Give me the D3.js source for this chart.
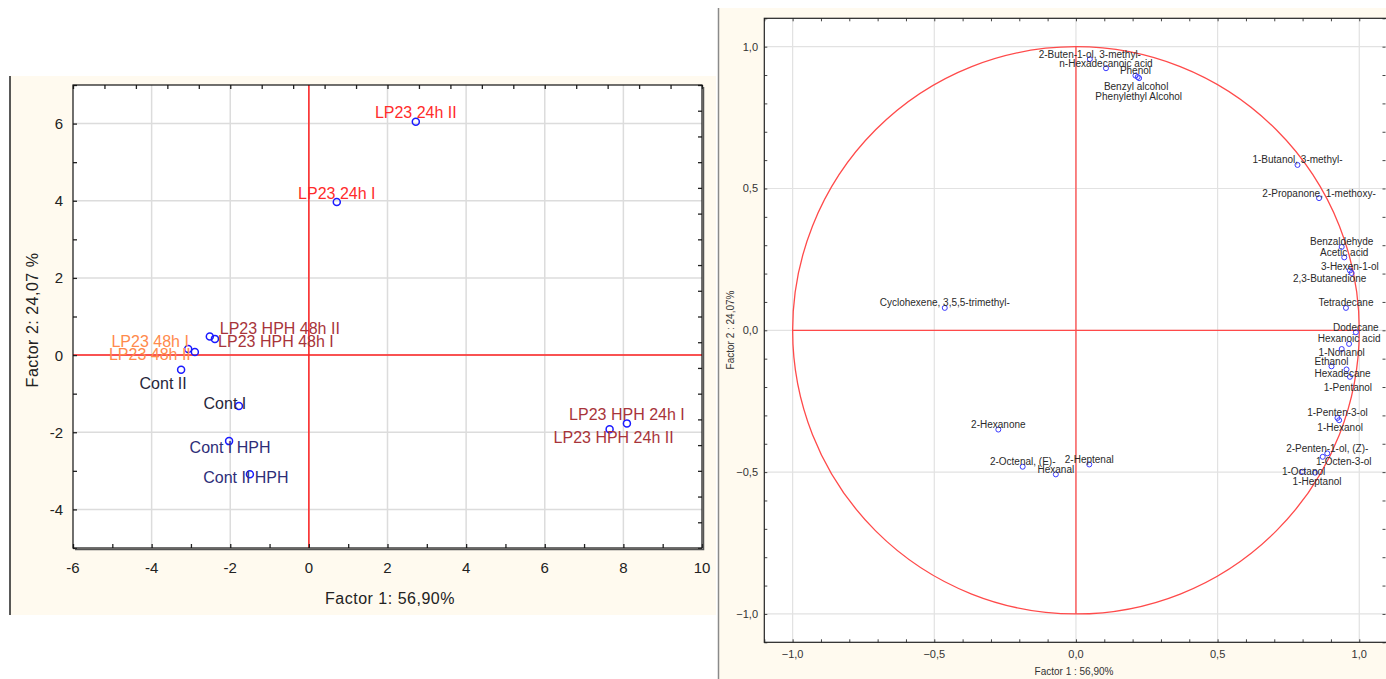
<!DOCTYPE html>
<html>
<head>
<meta charset="utf-8">
<script src="https://cdn.jsdelivr.net/npm/d3@7"></script>
<style>
  body { margin: 0; background: #fff; }
  svg text { font-family: "Liberation Sans", Arial, sans-serif; }
</style>
</head>
<body>
<div id="chart"></div>
<script>
// --- scores plot (cases) ---
const caseNames = ["LP23 24h II", "LP23 24h I", "LP23 HPH 48h II", "LP23 HPH 48h I",
  "LP23 48h I", "LP23 48h II", "Cont II", "Cont I", "Cont I HPH", "Cont II HPH",
  "LP23 HPH 24h I", "LP23 HPH 24h II"];
const caseF1 = [2.72, 0.71, -2.52, -2.39, -3.07, -2.90, -3.25, -1.78, -2.03, -1.50, 8.09, 7.65];
const caseF2 = [6.05, 3.97, 0.48, 0.42, 0.16, 0.08, -0.38, -1.32, -2.23, -3.09, -1.77, -1.92];
const caseGroup = ["24h", "24h", "HPH48", "HPH48", "48h", "48h", "Cont", "Cont", "ContHPH", "ContHPH", "HPH24", "HPH24"];
const scoreTicks = [-6, -4, -2, 0, 2, 4, 6, 8, 10];
const scoreYTicks = [-4, -2, 0, 2, 4, 6];

// --- loadings plot (variables) ---
const varNames = ["2-Buten-1-ol, 3-methyl-", "n-Hexadecanoic acid", "Phenol", "Benzyl alcohol",
  "Phenylethyl Alcohol", "1-Butanol, 3-methyl-", "2-Propanone, 1-methoxy-", "Benzaldehyde",
  "Acetic acid", "3-Hexen-1-ol", "2,3-Butanedione", "Tetradecane", "Cyclohexene, 3,5,5-trimethyl-",
  "Dodecane", "Hexanoic acid", "1-Nonanol", "Ethanol", "Hexadecane", "1-Pentanol", "1-Penten-3-ol",
  "1-Hexanol", "2-Penten-1-ol, (Z)-", "1-Octen-3-ol", "1-Octanol", "1-Heptanol", "2-Hexanone",
  "2-Octenal, (E)-", "2-Heptenal", "Hexanal"];
const varF1 = [0.049, 0.106, 0.210, 0.223, 0.218, 0.782, 0.858, 0.938, 0.947, 0.967, 0.973, 0.953, -0.463,
  0.988, 0.964, 0.938, 0.902, 0.955, 0.967, 0.923, 0.929, 0.887, 0.871, 0.800, 0.844, -0.274,
  -0.188, 0.047, -0.071];
const varF2 = [0.956, 0.924, 0.898, 0.889, 0.893, 0.583, 0.466, 0.294, 0.257, 0.211, 0.202, 0.079, 0.079,
  -0.007, -0.048, -0.066, -0.127, -0.138, -0.164, -0.309, -0.317, -0.434, -0.446, -0.499, -0.502, -0.350,
  -0.481, -0.473, -0.508];
const loadTicks = [-1.0, -0.5, 0.0, 0.5, 1.0];

// label placement (offsets in px from the marker)
const caseNudge = [[0, -9], [0, -8], [70, -8], [61, 3], [-38, -7], [-45, 3], [-18, 14], [-14, -3], [1, 6], [-4, 3], [0, -9], [4, 8]];
const varNudge = {
  "Benzyl alcohol": [-3, 8], "Phenylethyl Alcohol": [1, 19], "2,3-Butanedione": [-22, 5],
  "1-Nonanol": [0, 3], "Hexadecane": [-4, 4], "1-Pentanol": [-2, 11], "1-Hexanol": [1, 7],
  "1-Octen-3-ol": [21, 5], "1-Octanol": [1, 0], "1-Heptanol": [2, 9], "3-Hexen-1-ol": [0, -4]
};
const groupColor = { "24h": "#ff2b2b", "HPH48": "#a8343a", "HPH24": "#a8343a", "48h": "#ff8a4c", "Cont": "#26263a", "ContHPH": "#2e2e78" };

const fmt = d3.format(".1f");
const comma = v => fmt(v).replace(".", ",");

const svg = d3.select("#chart").append("svg")
  .attr("width", 1386).attr("height", 679);

// panel backgrounds
svg.append("rect").attr("x", 10).attr("y", 76).attr("width", 706).attr("height", 539).attr("fill", "#fffaef");
svg.append("line").attr("x1", 10).attr("x2", 10).attr("y1", 76).attr("y2", 615).attr("stroke", "#222").attr("stroke-width", 1.5);
svg.append("rect").attr("x", 718).attr("y", 8).attr("width", 668).attr("height", 671).attr("fill", "#fffaef");
svg.append("line").attr("x1", 718.5).attr("x2", 718.5).attr("y1", 8).attr("y2", 679).attr("stroke", "#8a8a8a").attr("stroke-width", 1.5);

// ================= left: scores =================
const x1 = d3.scaleLinear().domain([-6, 10]).range([73, 702]);
const y1 = d3.scaleLinear().domain([-5, 7]).range([548, 85]);
const g1 = svg.append("g");

g1.append("rect").attr("x", 73).attr("y", 85).attr("width", 629).attr("height", 463).attr("fill", "#fff");

// grid
g1.append("g").selectAll("line").data(scoreTicks.slice(1, -1)).join("line")
  .attr("x1", d => x1(d)).attr("x2", d => x1(d)).attr("y1", 85).attr("y2", 548)
  .attr("stroke", "#dcdcdc").attr("stroke-width", 1.5);
g1.append("g").selectAll("line").data(scoreYTicks).join("line")
  .attr("y1", d => y1(d)).attr("y2", d => y1(d)).attr("x1", 73).attr("x2", 702)
  .attr("stroke", "#dcdcdc").attr("stroke-width", 1.5);

// zero lines
g1.append("line").attr("x1", x1(0)).attr("x2", x1(0)).attr("y1", 85).attr("y2", 548).attr("stroke", "#ff2020").attr("stroke-width", 1.5);
g1.append("line").attr("x1", 73).attr("x2", 702).attr("y1", y1(0)).attr("y2", y1(0)).attr("stroke", "#ff2020").attr("stroke-width", 1.5);

// axes (ticks inward)
const ax1 = d3.axisBottom(x1).tickValues(d3.range(-6, 11, 1)).tickSize(-4).tickFormat("");
const ay1 = d3.axisLeft(y1).tickValues(d3.range(-5, 8, 1)).tickSize(-4).tickFormat("");
g1.append("g").attr("transform", "translate(0,548)").call(ax1);
g1.append("g").attr("transform", "translate(73,0)").call(ay1);
const xTop1 = d3.scaleLinear().domain([0, 20]).range([73, 702]);
const yRight1 = d3.scaleLinear().domain([0, 18]).range([548, 85]);
g1.append("g").attr("transform", "translate(0,85)").call(d3.axisTop(xTop1).ticks(20).tickSize(-4).tickFormat(""));
g1.append("g").attr("transform", "translate(702,0)").call(d3.axisRight(yRight1).ticks(18).tickSize(-4).tickFormat(""));
g1.selectAll(".domain").remove();
g1.selectAll(".tick line").attr("stroke", "#222").attr("stroke-width", 1.3);

// frame with shadow
g1.append("rect").attr("x", 73).attr("y", 85).attr("width", 629).attr("height", 463).attr("fill", "none").attr("stroke", "#111").attr("stroke-width", 1.2);
g1.append("path").attr("d", `M703.5,87V549.5H75`).attr("fill", "none").attr("stroke", "#555").attr("stroke-width", 1.5);

// tick labels
g1.append("g").selectAll("text").data(scoreTicks).join("text")
  .attr("x", d => x1(d)).attr("y", 567).attr("text-anchor", "middle").attr("dominant-baseline", "central")
  .attr("font-size", 15).attr("fill", "#222").text(d => d);
g1.append("g").selectAll("text").data(scoreYTicks).join("text")
  .attr("x", 63).attr("y", d => y1(d)).attr("text-anchor", "end").attr("dominant-baseline", "central")
  .attr("font-size", 15).attr("fill", "#222").text(d => d);

g1.append("text").attr("x", 390).attr("y", 598).attr("text-anchor", "middle").attr("dominant-baseline", "central")
  .attr("font-size", 16).attr("letter-spacing", 0.5).attr("fill", "#222").text("Factor 1: 56,90%");
g1.append("text").attr("transform", "translate(32,320) rotate(-90)").attr("text-anchor", "middle").attr("dominant-baseline", "central")
  .attr("font-size", 16).attr("letter-spacing", 0.5).attr("fill", "#222").text("Factor 2: 24,07 %");

// points + labels
const cases = caseNames.map((n, i) => ({ name: n, f1: caseF1[i], f2: caseF2[i], group: caseGroup[i], nudge: caseNudge[i] }));
g1.append("g").selectAll("circle").data(cases).join("circle")
  .attr("cx", d => x1(d.f1)).attr("cy", d => y1(d.f2)).attr("r", 3.5)
  .attr("fill", "none").attr("stroke", "#1a1aff").attr("stroke-width", 1.5);
g1.append("g").selectAll("text").data(cases).join("text")
  .attr("x", d => x1(d.f1) + d.nudge[0]).attr("y", d => y1(d.f2) + d.nudge[1])
  .attr("text-anchor", "middle").attr("dominant-baseline", "central")
  .attr("font-size", 16).attr("fill", d => groupColor[d.group]).text(d => d.name);

// ================= right: loadings =================
const x2 = d3.scaleLinear().domain([-1.1, 1.1]).range([764.3, 1387.6]);
const y2 = d3.scaleLinear().domain([-1.1, 1.1]).range([642.3, 18.3]);
const g2 = svg.append("g");

g2.append("rect").attr("x", 764.3).attr("y", 18.3).attr("width", 623.3).attr("height", 624).attr("fill", "#fff");

g2.append("g").selectAll("line").data(loadTicks).join("line")
  .attr("x1", d => x2(d)).attr("x2", d => x2(d)).attr("y1", 18.3).attr("y2", 642.3)
  .attr("stroke", "#e2e2e2").attr("stroke-width", 1.2);
g2.append("g").selectAll("line").data(loadTicks).join("line")
  .attr("y1", d => y2(d)).attr("y2", d => y2(d)).attr("x1", 764.3).attr("x2", 1387.6)
  .attr("stroke", "#e2e2e2").attr("stroke-width", 1.2);

// unit circle and cross
g2.append("ellipse").attr("cx", x2(0)).attr("cy", y2(0))
  .attr("rx", x2(1) - x2(0)).attr("ry", y2(0) - y2(1))
  .attr("fill", "none").attr("stroke", "#ff4a4a").attr("stroke-width", 1.3);
g2.append("line").attr("x1", x2(-1)).attr("x2", x2(1)).attr("y1", y2(0)).attr("y2", y2(0)).attr("stroke", "#ff4a4a").attr("stroke-width", 1.3);
g2.append("line").attr("x1", x2(0)).attr("x2", x2(0)).attr("y1", y2(1)).attr("y2", y2(-1)).attr("stroke", "#ff4a4a").attr("stroke-width", 1.3);

const minor = d3.range(-11, 12).map(d => d / 10);
g2.append("g").attr("transform", "translate(0,642.3)").call(d3.axisBottom(x2).tickValues(minor).tickSize(-3).tickFormat(""));
g2.append("g").attr("transform", "translate(0,18.3)").call(d3.axisTop(x2).tickValues(minor).tickSize(-3).tickFormat(""));
g2.append("g").attr("transform", "translate(764.3,0)").call(d3.axisLeft(y2).tickValues(minor).tickSize(-3).tickFormat(""));
g2.append("g").attr("transform", "translate(1385.5,0)").call(d3.axisRight(y2).tickValues(minor).tickSize(-3).tickFormat(""));
g2.selectAll(".domain").remove();
g2.selectAll(".tick line").attr("stroke", "#444");

g2.append("rect").attr("x", 764.3).attr("y", 18.3).attr("width", 623.3).attr("height", 624).attr("fill", "none").attr("stroke", "#222").attr("stroke-width", 1.2);

g2.append("g").selectAll("text").data(loadTicks).join("text")
  .attr("x", d => x2(d)).attr("y", 654).attr("text-anchor", "middle").attr("dominant-baseline", "central")
  .attr("font-size", 11).attr("fill", "#333").text(d => comma(d));
g2.append("g").selectAll("text").data(loadTicks).join("text")
  .attr("x", 758).attr("y", d => y2(d)).attr("text-anchor", "end").attr("dominant-baseline", "central")
  .attr("font-size", 11).attr("fill", "#333").text(d => comma(d));

g2.append("text").attr("x", 1074).attr("y", 671).attr("text-anchor", "middle").attr("dominant-baseline", "central")
  .attr("font-size", 10).attr("fill", "#333").text("Factor 1 : 56,90%");
g2.append("text").attr("transform", "translate(730,330) rotate(-90)").attr("text-anchor", "middle").attr("dominant-baseline", "central")
  .attr("font-size", 10).attr("fill", "#333").text("Factor 2 : 24,07%");

const vars = varNames.map((n, i) => ({ name: n, f1: varF1[i], f2: varF2[i], nudge: varNudge[n] || [0, -5] }));
g2.append("g").selectAll("circle").data(vars).join("circle")
  .attr("cx", d => x2(d.f1)).attr("cy", d => y2(d.f2)).attr("r", 2.5)
  .attr("fill", "none").attr("stroke", "#3a3aff").attr("stroke-width", 1);
g2.append("g").selectAll("text").data(vars).join("text")
  .attr("x", d => x2(d.f1) + d.nudge[0]).attr("y", d => y2(d.f2) + d.nudge[1])
  .attr("text-anchor", "middle").attr("dominant-baseline", "central")
  .attr("font-size", 10).attr("fill", "#2a2a2a").text(d => d.name);
</script>
</body>
</html>
